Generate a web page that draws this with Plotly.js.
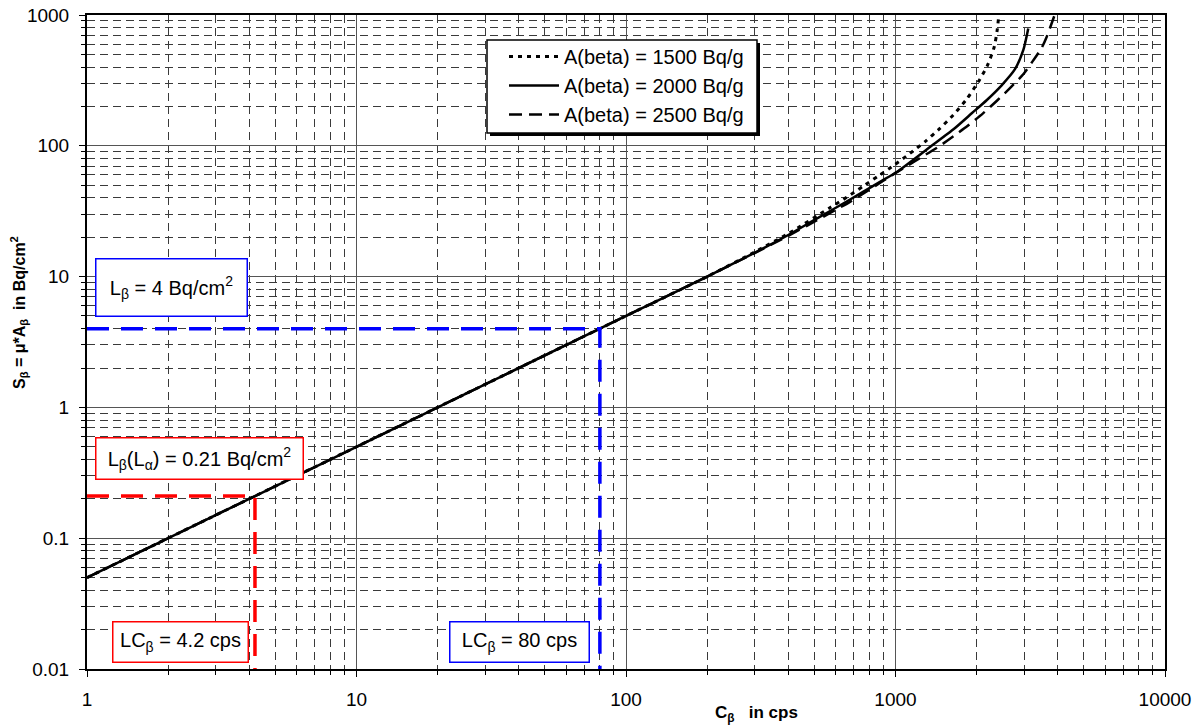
<!DOCTYPE html>
<html>
<head>
<meta charset="utf-8">
<script src="https://cdn.plot.ly/plotly-3.0.1.min.js"></script>
<style>html,body{margin:0;padding:0;background:#fff;}#chart{width:1202px;height:726px;}</style>
</head>
<body>
<div id="chart"></div>
<script>
// ---- data ----
const seriesNames = ['A(beta) = 1500 Bq/g', 'A(beta) = 2000 Bq/g', 'A(beta) = 2500 Bq/g'];

const C_1500 = [1, 10, 100, 200, 300, 400, 571, 659, 760, 863, 996, 1132, 1294, 1462, 1638, 1836, 2028, 2190, 2325, 2386, 2427];
const S_1500 = [0.05, 0.5, 5, 10, 15.4, 21.3, 33.6, 40.4, 49.2, 58.7, 72, 87.5, 108.6, 136, 172, 227, 308, 408, 570, 775, 1088];

const C_2000 = [1, 10, 100, 200, 300, 400, 495, 659, 876, 1010, 1343, 1650, 1923, 2178, 2477, 2775, 2979, 3109];
const S_2000 = [0.05, 0.5, 5, 10, 15.2, 20.8, 26.8, 37.5, 53, 63, 98, 135, 178, 223, 290, 385, 538, 790];

const C_2500 = [1, 10, 100, 200, 300, 400, 500, 678, 901, 1164, 1462, 1800, 2112, 2373, 2659, 2979, 3200, 3484, 3638, 3905];
const S_2500 = [0.05, 0.5, 5, 10, 15.1, 20.5, 26.3, 37.3, 54, 75, 100, 136, 177, 220, 276, 352, 432, 560, 680, 1014];

// detection-limit guide lines
const blueX = [1, 80, 80];
const blueY = [4, 4, 0.01];
const redX = [1, 4.2, 4.2];
const redY = [0.21, 0.21, 0.01];

// tick labels
const xTickVals = [1, 10, 100, 1000, 10000];
const xTickText = ['1', '10', '100', '1000', '10000'];
const yTickVals = [0.01, 0.1, 1, 10, 100, 1000];
const yTickText = ['0.01', '0.1', '1', '10', '100', '1000'];

// annotation texts
const boxTexts = [
  'L<sub>β</sub> = 4 Bq/cm<sup>2</sup>',
  'L<sub>β</sub>(L<sub>α</sub>) = 0.21 Bq/cm<sup>2</sup>',
  'LC<sub>β</sub> = 4.2 cps',
  'LC<sub>β</sub> = 80 cps'
];
const xTitle = '<b>C<sub>β</sub>\u00a0\u00a0 in cps</b>';
const yTitle = '<b>S<sub>β</sub> = μ*A<sub>β</sub>\u00a0 in Bq/cm<sup>2</sup></b>';

// ---- layout geometry (pixels) ----
const W = 1202, H = 726;
const M = {l: 87, r: 37, t: 15, b: 57};
const PW = W - M.l - M.r, PH = H - M.t - M.b;
const px2x = p => (p - M.l) / PW;
const py2y = p => (H - M.b - p) / PH;

const FONT = 'Liberation Sans, Arial, sans-serif';

const traces = [
  {x: C_1500, y: S_1500, name: seriesNames[0], mode: 'lines',
   line: {color: '#000', width: 3, dash: '4px,5px', shape: 'spline', smoothing: 0.6}},
  {x: C_2000, y: S_2000, name: seriesNames[1], mode: 'lines',
   line: {color: '#000', width: 2.5, shape: 'spline', smoothing: 0.6}},
  {x: C_2500, y: S_2500, name: seriesNames[2], mode: 'lines',
   line: {color: '#000', width: 2.5, dash: '13px,7px', shape: 'spline', smoothing: 0.6}},
  {x: blueX, y: blueY, mode: 'lines', showlegend: false, hoverinfo: 'skip',
   line: {color: '#0000FF', width: 3.5, dash: '22px,12px'}},
  {x: redX, y: redY, mode: 'lines', showlegend: false, hoverinfo: 'skip',
   line: {color: '#FF0000', width: 3.5, dash: '22px,12px'}}
];

function box(text, color, l, t, r, b) {
  return {
    xref: 'paper', yref: 'paper', x: px2x(l), y: py2y(t),
    xanchor: 'left', yanchor: 'top', showarrow: false,
    text: text, align: 'center', valign: 'middle',
    width: r - l - 2, height: b - t - 2,
    bgcolor: '#fff', bordercolor: color, borderwidth: 1.5, borderpad: 0,
    font: {family: FONT, size: 20, color: '#000'}
  };
}

const axisCommon = {
  type: 'log',
  tickmode: 'array',
  showline: true, linecolor: '#000', linewidth: 2, mirror: true,
  ticks: 'outside', ticklen: 6, tickcolor: '#000', tickwidth: 1,
  showgrid: true, gridcolor: '#555', gridwidth: 1,
  zeroline: false,
  tickfont: {family: FONT, size: 19, color: '#000'},
  minor: {dtick: 'D1', showgrid: true, gridcolor: '#3a3a3a', griddash: '8px,5px', gridwidth: 1,
          ticks: 'outside', ticklen: 4, tickcolor: '#000'}
};

const layout = {
  width: W, height: H,
  margin: M,
  paper_bgcolor: '#fff', plot_bgcolor: '#fff',
  font: {family: FONT, color: '#000'},
  showlegend: true,
  xaxis: Object.assign({}, axisCommon, {range: [0, 4], tickvals: xTickVals, ticktext: xTickText, ticklabelstandoff: 6}),
  yaxis: Object.assign({}, axisCommon, {range: [-2, 3], tickvals: yTickVals, ticktext: yTickText, ticklabelstandoff: 6}),
  legend: {
    x: px2x(504), y: py2y(37), xanchor: 'left', yanchor: 'top',
    bgcolor: 'rgba(0,0,0,0)', borderwidth: 0,
    font: {family: FONT, size: 20, color: '#000'},
    itemwidth: 50, tracegroupgap: 0
  },
  shapes: [
    {type: 'rect', xref: 'paper', yref: 'paper', layer: 'above',
     x0: px2x(490), x1: px2x(760), y0: py2y(43), y1: py2y(136),
     fillcolor: '#000', line: {width: 0}},
    {type: 'rect', xref: 'paper', yref: 'paper', layer: 'above',
     x0: px2x(487), x1: px2x(757), y0: py2y(40), y1: py2y(133),
     fillcolor: '#fff', line: {color: '#000', width: 1.5}}
  ],
  annotations: [
    box(boxTexts[0], '#0000FF', 95, 258, 247, 316),
    box(boxTexts[1], '#FF0000', 95, 437, 303, 479),
    box(boxTexts[2], '#FF0000', 112, 621, 248, 662),
    box(boxTexts[3], '#0000FF', 449, 621, 589, 662),
    {xref: 'paper', yref: 'paper', x: px2x(756), y: py2y(714), xanchor: 'center', yanchor: 'middle',
     showarrow: false, text: xTitle, font: {family: FONT, size: 17, color: '#000'}},
    {xref: 'paper', yref: 'paper', x: px2x(19), y: py2y(313), xanchor: 'center', yanchor: 'middle',
     showarrow: false, textangle: -90, text: yTitle, font: {family: FONT, size: 16, color: '#000'}}
  ]
};

Plotly.newPlot('chart', traces, layout, {displayModeBar: false, staticPlot: true});
</script>
</body>
</html>
